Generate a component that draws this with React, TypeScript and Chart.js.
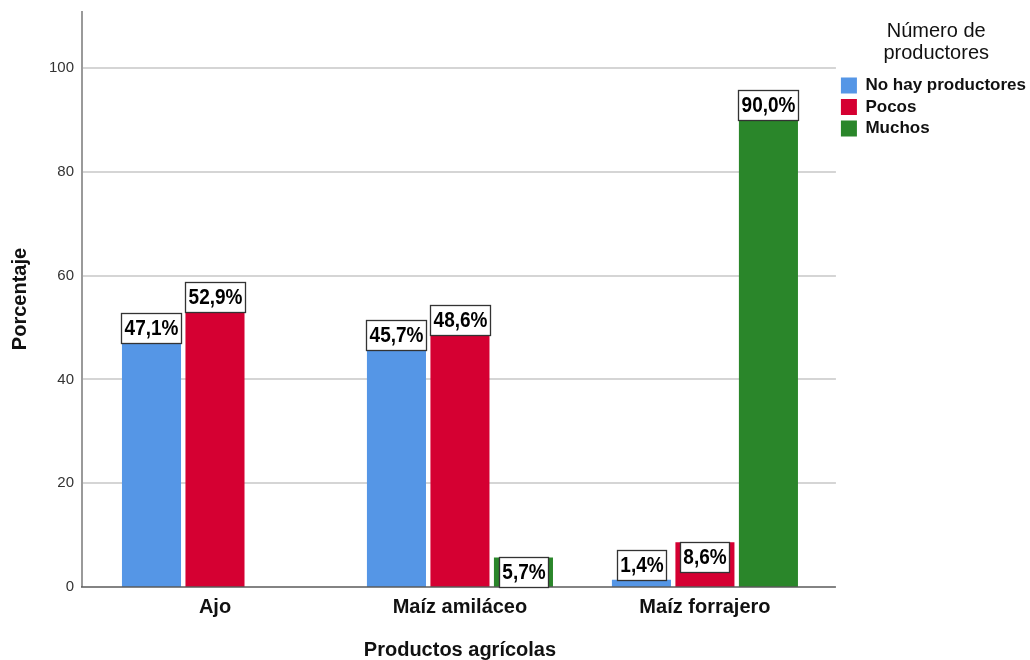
import React, { useEffect, useRef } from 'react';
import { Chart, registerables } from 'chart.js';

Chart.register(...registerables);

const categories = ['Ajo', 'Maíz amiláceo', 'Maíz forrajero'];
const seriesNames = ['No hay productores', 'Pocos', 'Muchos'];
const noHayValues = [47.1, 45.7, 1.4];
const pocosValues = [52.9, 48.6, 8.6];
const muchosValues: (number | null)[] = [null, 5.7, 90.0];
const yTicks = [0, 20, 40, 60, 80, 100];
const yMax = 111;
const xTitle = 'Productos agrícolas';
const yTitle = 'Porcentaje';
const legendTitle = ['Número de', 'productores'];
// label placement per series / category: true = box drawn inside the top of the bar
const labelInside = [
  [false, false, false],
  [false, false, true],
  [false, true, false],
];
const seriesColors = ['#5596E6', '#D50032', '#2A862A'];

const FONT = "'Liberation Sans', Arial, sans-serif";

const fmt = (v: number) => v.toFixed(1).replace('.', ',') + '%';

const framePlugin = {
  id: 'spssFrame',
  beforeDatasetsDraw(chart: any) {
    const { ctx, chartArea: a, scales } = chart;
    const y = scales.y;
    const left = a.left - 10.5;
    const right = a.right + 8.5;
    ctx.save();
    ctx.strokeStyle = '#d5d5d5';
    ctx.lineWidth = 2;
    yTicks.forEach((v) => {
      if (v === 0) return;
      const py = Math.round(y.getPixelForValue(v));
      ctx.beginPath();
      ctx.moveTo(left, py);
      ctx.lineTo(right, py);
      ctx.stroke();
    });
    ctx.restore();
  },
  afterDatasetsDraw(chart: any) {
    const { ctx, chartArea: a } = chart;
    const left = a.left - 10.5;
    const right = a.right + 8.5;
    ctx.save();
    ctx.strokeStyle = '#9a9a9a';
    ctx.lineWidth = 2;
    ctx.beginPath();
    ctx.moveTo(left, a.top);
    ctx.lineTo(left, a.bottom);
    ctx.stroke();
    ctx.strokeStyle = '#5a5a5a';
    ctx.lineWidth = 1.5;
    ctx.beginPath();
    ctx.moveTo(left - 1, a.bottom);
    ctx.lineTo(right, a.bottom);
    ctx.stroke();

    ctx.font = `bold 19px ${FONT}`;
    ctx.textAlign = 'center';
    ctx.textBaseline = 'middle';
    chart.data.datasets.forEach((ds: any, di: number) => {
      const meta = chart.getDatasetMeta(di);
      meta.data.forEach((bar: any, i: number) => {
        const v = ds.data[i];
        if (v === null || v === undefined) return;
        const text = fmt(v);
        const tw = ctx.measureText(text).width;
        const w = Math.round(tw + 6);
        const h = 30;
        const bx = Math.round(bar.x - w / 2) + 0.5;
        const top = labelInside[di][i] ? bar.y : bar.y - h;
        const by = Math.round(top) + 0.5;
        ctx.fillStyle = '#ffffff';
        ctx.fillRect(bx, by, w, h);
        ctx.strokeStyle = '#333333';
        ctx.lineWidth = 1.3;
        ctx.strokeRect(bx, by, w, h);
        ctx.fillStyle = '#000000';
        ctx.save();
        ctx.translate(bx + w / 2, by + h / 2 + 1);
        ctx.scale(1, 1.12);
        ctx.fillText(text, 0, 0);
        ctx.restore();
      });
    });
    ctx.restore();
  },
};

export default function App() {
  const canvasRef = useRef<HTMLCanvasElement | null>(null);

  useEffect(() => {
    if (!canvasRef.current) return;
    Chart.defaults.font.family = FONT;
    const seriesData = [noHayValues, pocosValues, muchosValues];
    const zeroPad = (scale: any) => {
      scale.paddingTop = 0;
      scale.paddingBottom = 0;
    };
    const chart = new Chart(canvasRef.current, {
      type: 'bar',
      data: {
        labels: categories,
        datasets: seriesNames.map((name, i) => ({
          label: name,
          data: seriesData[i] as any,
          backgroundColor: seriesColors[i],
          borderWidth: 0,
          categoryPercentage: 0.7776,
          barPercentage: 0.93,
        })),
      },
      options: {
        responsive: false,
        animation: false,
        layout: { padding: { top: 11, right: -6, bottom: 0, left: 0 } },
        plugins: {
          tooltip: { enabled: false },
          legend: {
            position: 'right',
            align: 'start',
            maxWidth: 400,
            labels: {
              boxWidth: 16,
              boxHeight: 16,
              padding: 4.5,
              color: '#111',
              font: { size: 17, weight: 'bold', family: FONT },
            },
            title: {
              display: true,
              text: legendTitle as any,
              color: '#111',
              font: { size: 20, lineHeight: 1.1, family: FONT },
              padding: { top: 10, bottom: 29.5 },
            },
          },
        },
        scales: {
          x: {
            offset: true,
            grid: { display: false, drawTicks: false },
            border: { display: false },
            afterFit: (scale: any) => {
              scale.height = 73;
            },
            ticks: {
              color: '#111',
              padding: 8,
              font: { size: 20, weight: 'bold', family: FONT },
            },
            title: {
              display: true,
              text: xTitle,
              color: '#111',
              font: { size: 20, weight: 'bold', family: FONT },
              padding: { top: 19, bottom: -2 },
            },
          },
          y: {
            min: 0,
            max: yMax,
            afterBuildTicks: (scale: any) => {
              scale.ticks = yTicks.map((v) => ({ value: v }));
            },
            afterFit: (scale: any) => {
              scale.width = 92.5;
              zeroPad(scale);
            },
            grid: { display: false, drawTicks: false },
            border: { display: false },
            ticks: {
              color: '#333',
              padding: 18.5,
              font: { size: 15, family: FONT },
            },
            title: {
              display: true,
              text: yTitle,
              color: '#111',
              font: { size: 20, weight: 'bold', family: FONT },
              padding: { top: 8, bottom: 0 },
            },
          },
          yR: {
            position: 'right',
            display: true,
            grid: { display: false, drawTicks: false },
            border: { display: false },
            ticks: { display: false },
            afterFit: (scale: any) => {
              scale.width = 9;
              zeroPad(scale);
            },
          },
        },
      } as any,
      plugins: [framePlugin],
    });
    return () => chart.destroy();
  }, []);

  return (
    <div style={{ position: 'absolute', left: 0, top: 0, width: 1030, height: 660 }}>
      <canvas ref={canvasRef} width={1030} height={660} style={{ display: 'block' }} />
    </div>
  );
}
